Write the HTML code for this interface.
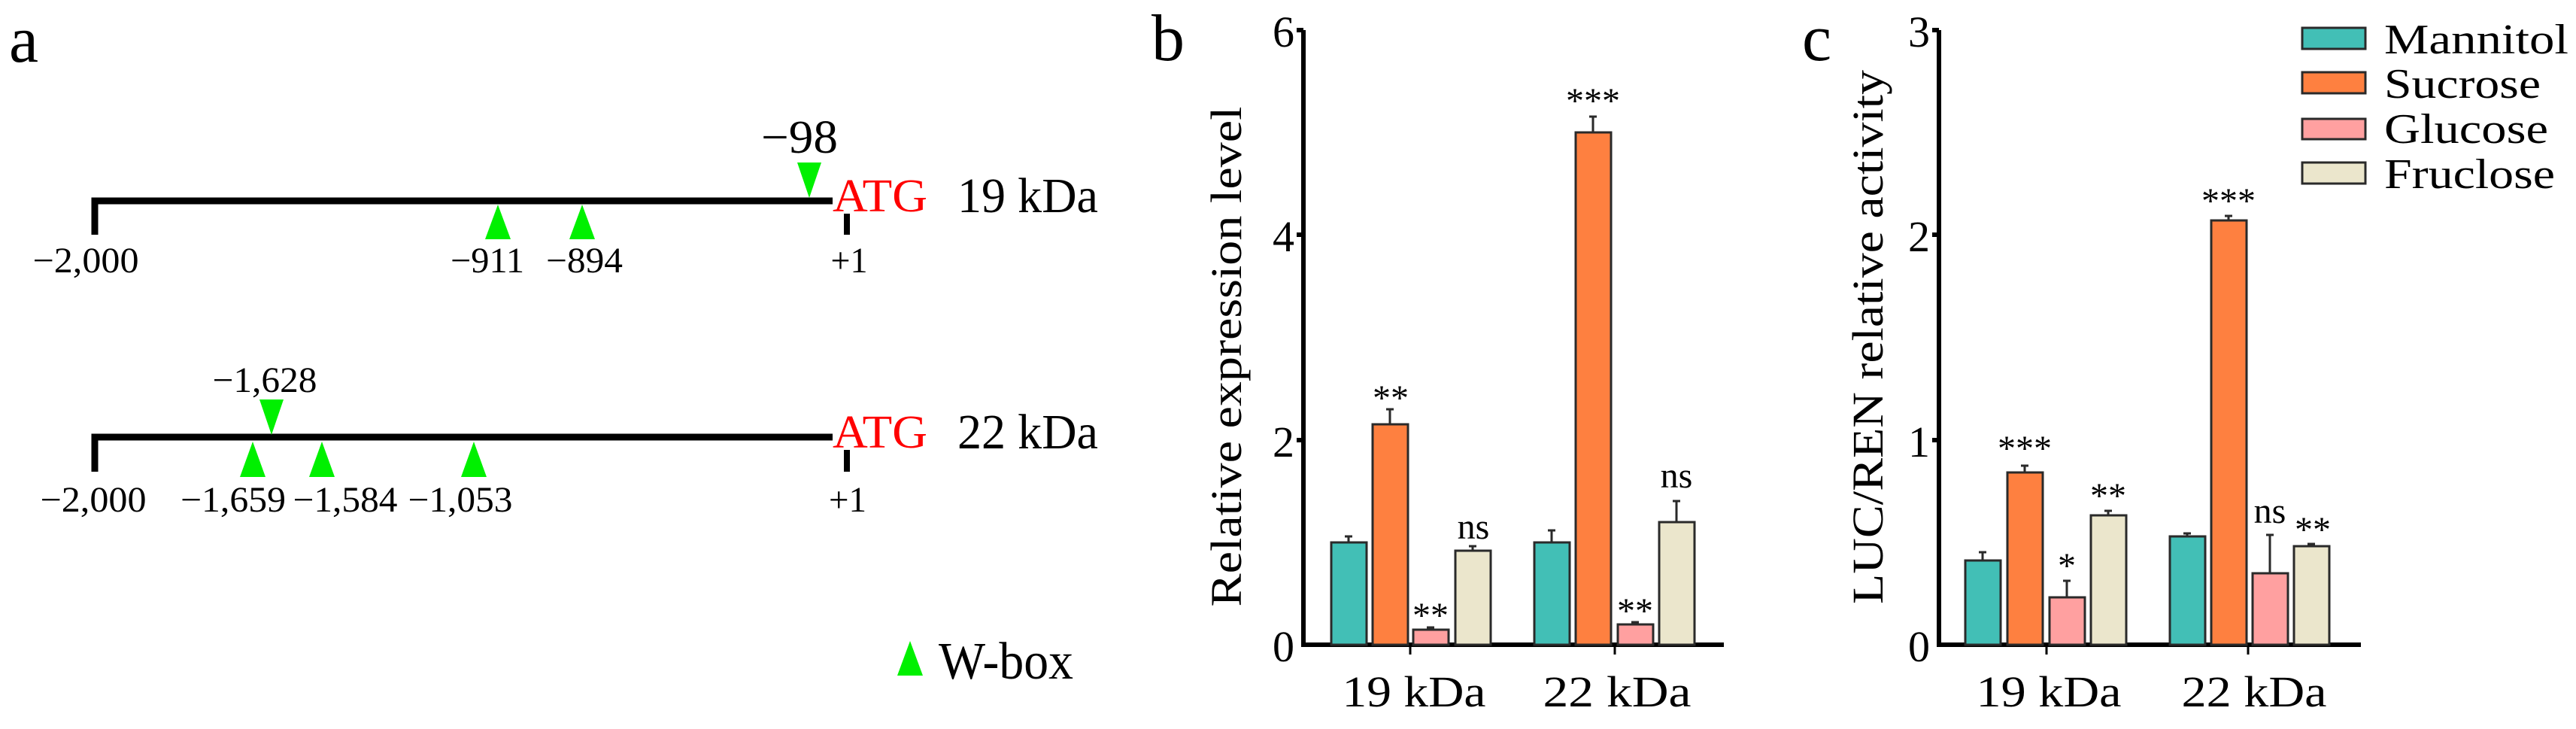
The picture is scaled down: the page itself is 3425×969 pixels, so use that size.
<!DOCTYPE html>
<html><head><meta charset="utf-8"><style>
html,body{margin:0;padding:0;background:#fff;}
svg{display:block;}
text{font-family:"Liberation Serif",serif;fill:#000;}
</style></head><body>
<svg width="3425" height="969" viewBox="0 0 3425 969" xmlns="http://www.w3.org/2000/svg">
<!-- Panel a -->
<text x="12" y="82" font-size="88">a</text>
<path d="M126 312 V267 H1107" fill="none" stroke="#000" stroke-width="9"/>
<line x1="1126" y1="284" x2="1126" y2="312" stroke="#000" stroke-width="8"/>
<text x="1107" y="281" font-size="62" style="fill:#f00" textLength="126" lengthAdjust="spacingAndGlyphs">ATG</text>
<text x="1273" y="282" font-size="66" textLength="187" lengthAdjust="spacingAndGlyphs">19 kDa</text>
<polygon points="662,272 645,318 679,318" fill="#00f000"/>
<polygon points="774,272 757,318 791,318" fill="#00f000"/>
<polygon points="1076,263 1060,216 1092,216" fill="#00f000"/>
<text x="1063" y="203" font-size="62" text-anchor="middle" textLength="102" lengthAdjust="spacingAndGlyphs">−98</text>
<g font-size="48" text-anchor="middle">
<text x="114" y="362" textLength="141" lengthAdjust="spacingAndGlyphs">−2,000</text>
<text x="648" y="362" textLength="98" lengthAdjust="spacingAndGlyphs">−911</text>
<text x="777" y="362" textLength="102" lengthAdjust="spacingAndGlyphs">−894</text>
<text x="1129" y="362" textLength="49" lengthAdjust="spacingAndGlyphs">+1</text>
</g>
<path d="M126 627 V581 H1107" fill="none" stroke="#000" stroke-width="9"/>
<line x1="1126" y1="598" x2="1126" y2="627" stroke="#000" stroke-width="8"/>
<text x="1107" y="595" font-size="62" style="fill:#f00" textLength="126" lengthAdjust="spacingAndGlyphs">ATG</text>
<text x="1273" y="596" font-size="66" textLength="187" lengthAdjust="spacingAndGlyphs">22 kDa</text>
<polygon points="336,587 319,634 353,634" fill="#00f000"/>
<polygon points="428,587 411,634 445,634" fill="#00f000"/>
<polygon points="630,587 613,634 647,634" fill="#00f000"/>
<polygon points="361,578 345,531 377,531" fill="#00f000"/>
<g font-size="48" text-anchor="middle">
<text x="352" y="521" textLength="139" lengthAdjust="spacingAndGlyphs">−1,628</text>
<text x="124" y="680" textLength="141" lengthAdjust="spacingAndGlyphs">−2,000</text>
<text x="310" y="680" textLength="140" lengthAdjust="spacingAndGlyphs">−1,659</text>
<text x="459" y="680" textLength="139" lengthAdjust="spacingAndGlyphs">−1,584</text>
<text x="612" y="680" textLength="139" lengthAdjust="spacingAndGlyphs">−1,053</text>
<text x="1127" y="680" textLength="50" lengthAdjust="spacingAndGlyphs">+1</text>
</g>
<polygon points="1210,852 1193,898 1227,898" fill="#00f000"/>
<text x="1248" y="902" font-size="70" textLength="179" lengthAdjust="spacingAndGlyphs">W-box</text>

<!-- Panel b -->
<text x="1531" y="80" font-size="88">b</text>
<text transform="translate(1650,474) rotate(-90)" font-size="58" text-anchor="middle" textLength="665" lengthAdjust="spacingAndGlyphs">Relative expression level</text>
<g stroke="#000" stroke-width="6">
<line x1="1733" y1="40" x2="1733" y2="860"/>
<line x1="1730" y1="857" x2="2292" y2="857"/>
<line x1="1724" y1="40" x2="1733" y2="40"/>
<line x1="1724" y1="312" x2="1733" y2="312"/>
<line x1="1724" y1="585" x2="1733" y2="585"/>
</g>
<g stroke="#000" stroke-width="3"><line x1="1875" y1="857" x2="1875" y2="870"/><line x1="2147" y1="857" x2="2147" y2="870"/></g>
<g font-size="58" text-anchor="end">
<text x="1721" y="62">6</text><text x="1721" y="334">4</text><text x="1721" y="607">2</text><text x="1721" y="879">0</text>
</g>
<g font-size="58" text-anchor="middle">
<text x="1880" y="939" textLength="191" lengthAdjust="spacingAndGlyphs">19 kDa</text>
<text x="2150" y="939" textLength="197" lengthAdjust="spacingAndGlyphs">22 kDa</text>
</g>
<g stroke="#2a2a2a" stroke-width="3">
<rect x="1770" y="721" width="47" height="136" fill="#42bfb6"/>
<rect x="1825" y="564" width="47" height="293" fill="#fe8040"/>
<rect x="1879" y="837" width="47" height="20" fill="#ffa0a0"/>
<rect x="1935" y="732" width="47" height="125" fill="#ebe6cc"/>
<rect x="2040" y="721" width="47" height="136" fill="#42bfb6"/>
<rect x="2095" y="176" width="47" height="681" fill="#fe8040"/>
<rect x="2151" y="830" width="47" height="27" fill="#ffa0a0"/>
<rect x="2206" y="694" width="47" height="163" fill="#ebe6cc"/>
</g>
<g stroke="#2a2a2a" stroke-width="3" fill="none">
<path d="M1793 721 V713 M1788 713 H1798"/>
<path d="M1848 564 V544 M1843 544 H1853"/>
<path d="M1902 837 V834 M1897 834 H1907"/>
<path d="M1958 732 V726 M1953 726 H1963"/>
<path d="M2063 721 V705 M2058 705 H2068"/>
<path d="M2118 176 V155 M2113 155 H2123"/>
<path d="M2174 830 V827 M2169 827 H2179"/>
<path d="M2229 694 V666 M2224 666 H2234"/>
</g>
<g font-size="48" text-anchor="middle">
<text x="1849" y="545">**</text>
<text x="1902" y="834">**</text>
<text x="1959" y="716">ns</text>
<text x="2118" y="150">***</text>
<text x="2174" y="828">**</text>
<text x="2229" y="648">ns</text>
</g>

<!-- Panel c -->
<text x="2396" y="80" font-size="88">c</text>
<text transform="translate(2503,448) rotate(-90)" font-size="58" text-anchor="middle" textLength="710" lengthAdjust="spacingAndGlyphs">LUC/REN relative activity</text>
<g stroke="#000" stroke-width="6">
<line x1="2578" y1="40" x2="2578" y2="860"/>
<line x1="2575" y1="857" x2="3139" y2="857"/>
<line x1="2569" y1="40" x2="2578" y2="40"/>
<line x1="2569" y1="312" x2="2578" y2="312"/>
<line x1="2569" y1="585" x2="2578" y2="585"/>
</g>
<g stroke="#000" stroke-width="3"><line x1="2721" y1="857" x2="2721" y2="870"/><line x1="2989" y1="857" x2="2989" y2="870"/></g>
<g font-size="58" text-anchor="end">
<text x="2566" y="62">3</text><text x="2566" y="334">2</text><text x="2566" y="607">1</text><text x="2566" y="879">0</text>
</g>
<g font-size="58" text-anchor="middle">
<text x="2724" y="939" textLength="193" lengthAdjust="spacingAndGlyphs">19 kDa</text>
<text x="2997" y="939" textLength="193" lengthAdjust="spacingAndGlyphs">22 kDa</text>
</g>
<g stroke="#2a2a2a" stroke-width="3">
<rect x="2613" y="745" width="47" height="112" fill="#42bfb6"/>
<rect x="2669" y="628" width="47" height="229" fill="#fe8040"/>
<rect x="2725" y="794" width="47" height="63" fill="#ffa0a0"/>
<rect x="2780" y="685" width="47" height="172" fill="#ebe6cc"/>
<rect x="2885" y="713" width="47" height="144" fill="#42bfb6"/>
<rect x="2940" y="293" width="47" height="564" fill="#fe8040"/>
<rect x="2995" y="762" width="47" height="95" fill="#ffa0a0"/>
<rect x="3050" y="726" width="47" height="131" fill="#ebe6cc"/>
</g>
<g stroke="#2a2a2a" stroke-width="3" fill="none">
<path d="M2636 745 V734 M2631 734 H2641"/>
<path d="M2692 628 V619 M2687 619 H2697"/>
<path d="M2748 794 V772 M2743 772 H2753"/>
<path d="M2803 685 V679 M2798 679 H2808"/>
<path d="M2908 713 V709 M2903 709 H2913"/>
<path d="M2963 293 V287 M2958 287 H2968"/>
<path d="M3018 762 V711 M3013 711 H3023"/>
<path d="M3073 726 V723 M3068 723 H3078"/>
</g>
<g font-size="48" text-anchor="middle">
<text x="2692" y="612">***</text>
<text x="2748" y="768">*</text>
<text x="2803" y="675">**</text>
<text x="2963" y="283">***</text>
<text x="3018" y="695">ns</text>
<text x="3075" y="720">**</text>
</g>
<g stroke="#2a2a2a" stroke-width="3">
<rect x="3061" y="37" width="84" height="28" fill="#42bfb6"/>
<rect x="3061" y="96" width="84" height="28" fill="#fe8040"/>
<rect x="3061" y="158" width="84" height="27" fill="#ffa0a0"/>
<rect x="3061" y="216" width="84" height="28" fill="#ebe6cc"/>
</g>
<g font-size="56">
<text x="3170" y="71" textLength="245" lengthAdjust="spacingAndGlyphs">Mannitol</text>
<text x="3170" y="130" textLength="208" lengthAdjust="spacingAndGlyphs">Sucrose</text>
<text x="3170" y="190" textLength="218" lengthAdjust="spacingAndGlyphs">Glucose</text>
<text x="3170" y="250" textLength="227" lengthAdjust="spacingAndGlyphs">Fruclose</text>
</g>
</svg>
</body></html>
